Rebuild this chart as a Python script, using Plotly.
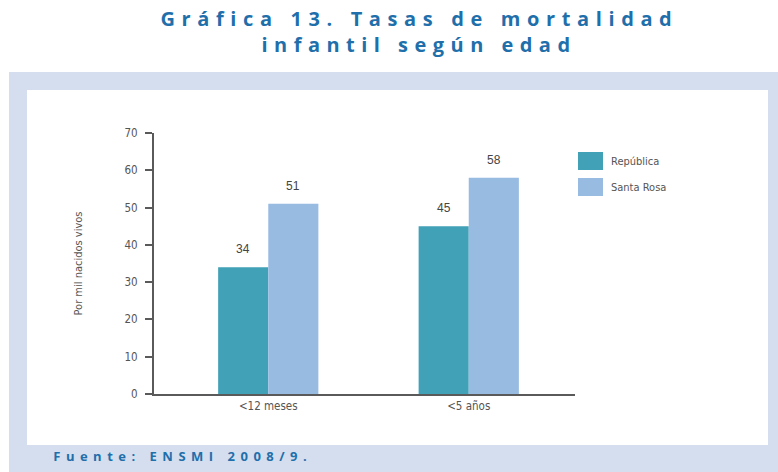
import plotly.graph_objects as go

# Data
categories = ["<12 meses", "<5 años"]
series_names = ["República", "Santa Rosa"]
republica = [34, 45]
santa_rosa = [51, 58]
y_ticks = [0, 10, 20, 30, 40, 50, 60, 70]
title_lines = ["Gráfica 13. Tasas de mortalidad", "infantil según edad"]
source = "Fuente: ENSMI 2008/9."

colors = ["#41a1b6", "#98bbe2"]
title_blue = "#1f6fab"
axis_gray = "#5a5a5a"
text_gray = "#555555"
narrow = "DejaVu Sans Condensed, Liberation Sans Narrow, Arial"
heavy = "Open Sans, Roboto, Arial"

W, H = 778, 472
# plot area in pixels
L, R, T, B = 154, 575, 133, 394


def px(x):
    return (x - L) / (R - L)


def py(y):
    return (B - y) / (B - T)


fig = go.Figure()
annotations = []
for k, (name, vals, col) in enumerate(zip(series_names, [republica, santa_rosa], colors)):
    fig.add_trace(go.Bar(
        x=categories, y=vals, name=name,
        marker=dict(color=col, line=dict(width=0)),
    ))
    # value labels above each bar
    for cat, v in zip(categories, vals):
        annotations.append(dict(
            x=cat, y=v, text=str(v), showarrow=False,
            xshift=-25 if k == 0 else 25, yshift=9, yanchor="bottom",
            font=dict(family="Liberation Sans, Arial", size=12, color="#444444")))

shapes = [
    # outer light-blue panel
    dict(type="rect", xref="paper", yref="paper", layer="below",
         x0=px(9), x1=px(778), y0=py(472), y1=py(72),
         fillcolor="#d4deee", line=dict(width=0)),
    # inner white box
    dict(type="rect", xref="paper", yref="paper", layer="below",
         x0=px(27), x1=px(768), y0=py(445), y1=py(90),
         fillcolor="white", line=dict(width=0)),
]

# title (two lines) and source note, letter-spaced later in post_script
for text, yc in zip(title_lines, [18, 44]):
    annotations.append(dict(text=text, xref="paper", yref="paper",
                            x=px(419), y=py(yc), xanchor="center", yanchor="middle",
                            showarrow=False,
                            font=dict(family=heavy, size=20, color=title_blue,
                                      weight="bold")))
annotations.append(dict(text=source, xref="paper", yref="paper",
                        x=px(183), y=py(456), xanchor="center", yanchor="middle",
                        showarrow=False,
                        font=dict(family=heavy, size=13, color=title_blue,
                                  weight="bold")))

# custom legend with big swatches
for i, (name, col) in enumerate(zip(series_names, colors)):
    top = 152 + i * 26
    shapes.append(dict(type="rect", xref="paper", yref="paper",
                       x0=px(578), x1=px(603), y0=py(top + 18), y1=py(top),
                       fillcolor=col, line=dict(width=0)))
    annotations.append(dict(text=name, xref="paper", yref="paper",
                            x=px(609), y=py(top + 9), xanchor="left", yanchor="middle",
                            showarrow=False,
                            font=dict(family=narrow, size=11, color=text_gray)))

fig.update_layout(
    width=W, height=H,
    margin=dict(l=L, r=W - R, t=T, b=H - B),
    paper_bgcolor="white", plot_bgcolor="white",
    barmode="group", bargap=0.5, bargroupgap=0,
    showlegend=False,
    xaxis=dict(type="category", range=[-0.57, 1.53], showline=True,
               linecolor=axis_gray, linewidth=2, ticks="", showgrid=False,
               tickfont=dict(family=narrow, size=11.5, color=text_gray)),
    xaxis2=dict(overlaying="x", range=[-0.57, 1.53], tickvals=[0.5], ticks="outside",
                ticklen=6, tickwidth=1.5, tickcolor=axis_gray, showticklabels=False,
                showgrid=False, zeroline=False, side="bottom"),
    yaxis=dict(range=[0, 70], tickvals=y_ticks, showline=True, linecolor=axis_gray,
               linewidth=2, ticks="outside", ticklen=7, tickwidth=1.5, tickcolor=axis_gray,
               showgrid=False, zeroline=False, ticklabelstandoff=5,
               tickfont=dict(family=narrow, size=11.5, color=text_gray),
               title=dict(text="Por mil nacidos vivos", standoff=40,
                          font=dict(family=narrow, size=11, color=text_gray))),
    shapes=shapes,
    annotations=annotations,
)

# spread the title / source letters so each line fills its width in the reference
post = """
document.body.style.margin='0';
var targets = {'Gráfica': 518, 'infantil': 315, 'Fuente': 259};
document.querySelectorAll('text').forEach(function(e){
  var t = e.textContent;
  Object.keys(targets).forEach(function(k){
    if (t.indexOf(k) === 0) {
      e.style.letterSpacing = '0px';
      var w = e.getComputedTextLength();
      var ls = (targets[k] - w) / t.length;
      e.style.letterSpacing = ls.toFixed(2) + 'px';
    }
  });
});
"""
fig.write_html("out.html", post_script=post, config={"displayModeBar": False})
